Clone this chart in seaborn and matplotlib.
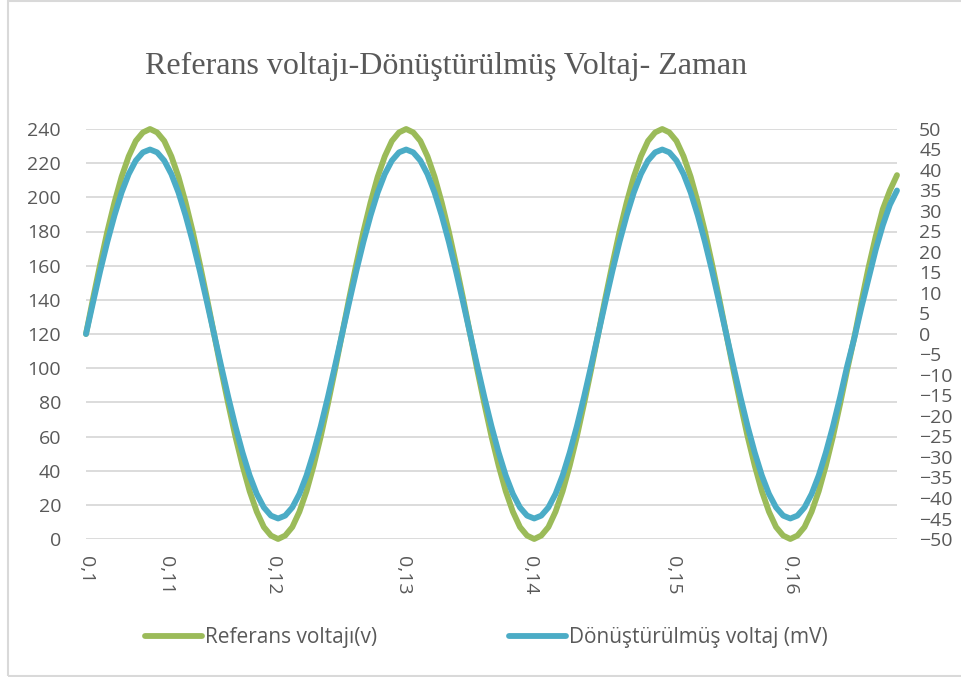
import seaborn as sns
import matplotlib.pyplot as plt
import matplotlib.patches as patches
import pandas as pd

# Sample number along the category axis
sample = list(range(115))

# Reference voltage (V), left axis
referans = [120, 141, 161, 180, 197, 212, 224, 233, 238, 240, 238, 233,
            224, 212, 197, 180, 161, 141, 120, 99, 79, 60, 43, 28,
            16, 7, 2, 0, 2, 7, 16, 28, 43, 60, 79, 99,
            120, 141, 161, 180, 197, 212, 224, 233, 238, 240, 238, 233,
            224, 212, 197, 180, 161, 141, 120, 99, 79, 60, 43, 28,
            16, 7, 2, 0, 2, 7, 16, 28, 43, 60, 79, 99,
            120, 141, 161, 180, 197, 212, 224, 233, 238, 240, 238, 233,
            224, 212, 197, 180, 161, 141, 120, 99, 79, 60, 43, 28,
            16, 7, 2, 0, 2, 7, 16, 28, 43, 60, 79, 99,
            118, 139, 159, 177, 193, 204, 213]

# Converted voltage (mV), right axis
donusturulmus = [0, 7.8, 15.4, 22.5, 28.9, 34.5, 39, 42.3, 44.3, 45, 44.3, 42.3,
                 39, 34.5, 28.9, 22.5, 15.4, 7.8, 0, -7.8, -15.4, -22.5, -28.9, -34.5,
                 -39, -42.3, -44.3, -45, -44.3, -42.3, -39, -34.5, -28.9, -22.5, -15.4, -7.8,
                 0, 7.8, 15.4, 22.5, 28.9, 34.5, 39, 42.3, 44.3, 45, 44.3, 42.3,
                 39, 34.5, 28.9, 22.5, 15.4, 7.8, 0, -7.8, -15.4, -22.5, -28.9, -34.5,
                 -39, -42.3, -44.3, -45, -44.3, -42.3, -39, -34.5, -28.9, -22.5, -15.4, -7.8,
                 0, 7.8, 15.4, 22.5, 28.9, 34.5, 39, 42.3, 44.3, 45, 44.3, 42.3,
                 39, 34.5, 28.9, 22.5, 15.4, 7.8, 0, -7.8, -15.4, -22.5, -28.9, -34.5,
                 -39, -42.3, -44.3, -45, -44.3, -42.3, -39, -34.5, -28.9, -22.5, -15.4, -7.8,
                 -1, 6.5, 13.5, 20.5, 26.5, 31.5, 35]

# Category labels shown on the x axis (and where they sit)
x_labels = ['0,1', '0,11', '0,12', '0,13', '0,14', '0,15', '0,16']
x_label_pos = [0, 11.25, 26.3, 44.6, 62.4, 82.5, 99.0]

left_ticks = list(range(0, 241, 20))
right_ticks = list(range(-50, 51, 5))

df = pd.DataFrame({'sample': sample, 'ref': referans, 'conv': donusturulmus})

sns.set_style('white')
plt.rcParams['font.family'] = ['Open Sans', 'DejaVu Sans']

green = '#9BBB59'
blue = '#4BACC6'
text_grey = '#595959'
grid_grey = '#D9D9D9'

fig = plt.figure(figsize=(9.61, 6.77), dpi=100)
ax = fig.add_axes([86 / 961, 1 - 539 / 677, (897 - 86) / 961, (539 - 129) / 677])
ax2 = ax.twinx()

sns.lineplot(data=df, x='sample', y='ref', ax=ax, color=green, lw=4.2,
             label='Referans voltajı(v)', legend=False)
sns.lineplot(data=df, x='sample', y='conv', ax=ax2, color=blue, lw=4.2,
             label='Dönüştürülmüş voltaj (mV)', legend=False)
for a in (ax, ax2):
    for ln in a.get_lines():
        ln.set_clip_on(False)
        ln.set_solid_capstyle('round')
        ln.set_solid_joinstyle('round')

ax.set_xlim(0, 114)
ax.set_ylim(0, 240)
ax2.set_ylim(-50, 50)
ax.set_yticks(left_ticks)
ax2.set_yticks(right_ticks)
ax.set_xticks(x_label_pos)
ax.set_xticklabels(x_labels, rotation=-90)
ax.set_xlabel('')
ax.set_ylabel('')
ax2.set_ylabel('')

ax.yaxis.grid(True, color=grid_grey, lw=1.3)
ax.xaxis.grid(False)
ax.set_axisbelow(True)
for a in (ax, ax2):
    for s in a.spines.values():
        s.set_visible(False)
ax.tick_params(axis='y', length=0, pad=18, labelsize=14, labelcolor=text_grey)
ax.tick_params(axis='x', length=0, pad=12, labelsize=14, labelcolor=text_grey)
ax2.tick_params(axis='y', length=0, pad=16, labelsize=14, labelcolor=text_grey)
ax2.grid(False)

fig.text(446 / 961, 1 - 66 / 677,
         'Referans voltajı-Dönüştürülmüş Voltaj- Zaman',
         ha='center', va='center', fontsize=23, color=text_grey,
         family=['Liberation Serif', 'DejaVu Serif'])

handles = ax.get_lines() + ax2.get_lines()
leg = fig.legend(handles, [h.get_label() for h in handles], ncol=2,
                 loc='center left', bbox_to_anchor=(145 / 961, 1 - 638 / 677),
                 frameon=False, borderpad=0, borderaxespad=0,
                 handlelength=2.75, handletextpad=0.15, columnspacing=6.3,
                 prop={'family': ['Open Sans', 'DejaVu Sans'], 'size': 15})
for t in leg.get_texts():
    t.set_color(text_grey)

fig.patches.append(patches.Rectangle((7.5 / 961, 1 / 677), 1.0, 675 / 677,
                                     transform=fig.transFigure, fill=False,
                                     edgecolor=grid_grey, lw=1.5))

plt.savefig('out.png', dpi=100)
